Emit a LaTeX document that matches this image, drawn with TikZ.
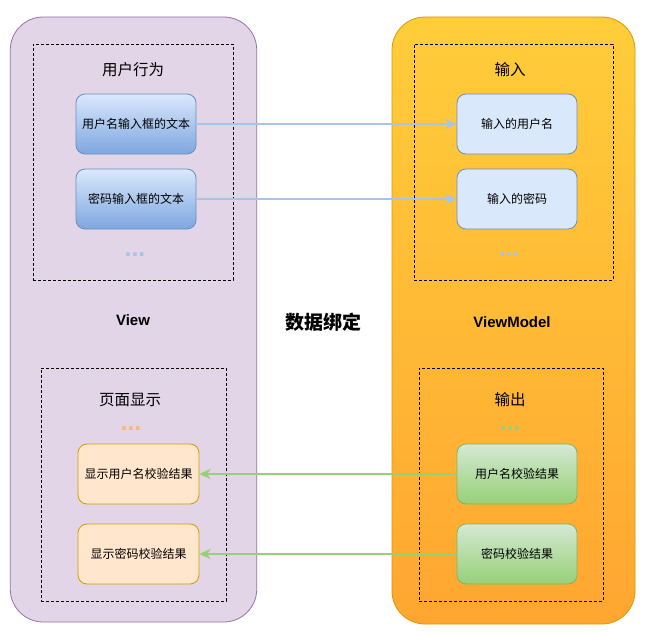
\documentclass[tikz,border=0pt]{standalone}
\usepackage{fontspec}
\setmainfont{Liberation Sans}
\newfontfamily\cjk{Noto Sans CJK SC}
\usetikzlibrary{arrows.meta}

\definecolor{viewfill}{HTML}{E1D5E7}
\definecolor{viewline}{HTML}{9673A6}
\definecolor{vmtop}{HTML}{FFCD3A}
\definecolor{vmbottom}{HTML}{FFA631}
\definecolor{vmline}{HTML}{D79B00}
\definecolor{bluetop}{HTML}{DAE8FC}
\definecolor{bluebottom}{HTML}{7EA6E0}
\definecolor{blueline}{HTML}{6C8EBF}
\definecolor{bluearr}{HTML}{A9C4EB}
\definecolor{orangefill}{HTML}{FFE6CC}
\definecolor{orangeline}{HTML}{D79B00}
\definecolor{orangedot}{HTML}{FFB570}
\definecolor{greentop}{HTML}{D5E8D4}
\definecolor{greenbottom}{HTML}{97D077}
\definecolor{greenline}{HTML}{82B366}

\tikzset{
  panel/.style={draw,rounded corners=33pt,line width=0.8pt},
  group/.style={draw,dash pattern=on 3pt off 2pt,line width=0.7pt},
  item/.style={draw,rounded corners=9pt,minimum width=120pt,minimum height=60pt,
    line width=0.8pt,font=\cjk\fontsize{12}{14}\selectfont},
  heading/.style={font=\cjk\fontsize{15.5}{18}\selectfont},
  dots/.style={font=\bfseries\fontsize{25}{25}\selectfont,inner sep=0pt},
  link/.style={line width=1.5pt,-{Stealth[length=11pt,width=10pt,inset=3pt]}}
}

\begin{document}
\begin{tikzpicture}[x=1pt,y=-1pt]
  \useasboundingbox (0,0) rectangle (647,634);
  \node (view) at (133.5,319.5) [panel,fill=viewfill,draw=viewline,minimum width=246.5pt,minimum height=605pt] {};
  \node (vm) at (513.5,320.5) [panel,top color=vmtop,bottom color=vmbottom,draw=vmline,minimum width=243pt,minimum height=607pt] {};

  \node (act) at (133,162) [group,minimum width=200pt,minimum height=236pt] {};
  \node (in) at (513.5,162) [group,minimum width=199pt,minimum height=236pt] {};
  \node (show) at (133.5,484.5) [group,minimum width=185pt,minimum height=233pt] {};
  \node (out) at (511,484.5) [group,minimum width=184pt,minimum height=233pt] {};

  \node (acttitle) at (133,70) [heading] {用户行为};
  \node (intitle) at (510,70) [heading] {输入};
  \node (showtitle) at (130,400) [heading] {页面显示};
  \node (outtitle) at (510,400) [heading] {输出};

  \node (nametext) at (136,124) [item,top color=bluetop,bottom color=bluebottom,draw=blueline] {用户名输入框的文本};
  \node (pwdtext) at (136,199) [item,top color=bluetop,bottom color=bluebottom,draw=blueline] {密码输入框的文本};
  \node (namein) at (517,124) [item,fill=bluetop,draw=blueline] {输入的用户名};
  \node (pwdin) at (517,199) [item,fill=bluetop,draw=blueline] {输入的密码};
  \node (namecheck) at (517,474) [item,top color=greentop,bottom color=greenbottom,draw=greenline] {用户名校验结果};
  \node (pwdcheck) at (517,554) [item,top color=greentop,bottom color=greenbottom,draw=greenline] {密码校验结果};
  \node (nameshow) at (138.5,474) [item,fill=orangefill,draw=orangeline,minimum width=121pt] {显示用户名校验结果};
  \node (pwdshow) at (138.5,554) [item,fill=orangefill,draw=orangeline,minimum width=121pt] {显示密码校验结果};

  \node (actdots) at (135,255) [dots,text=bluearr] {...};
  \node (indots) at (509,255) [dots,text=bluearr] {...};
  \node (showdots) at (131,429) [dots,text=orangedot] {...};
  \node (outdots) at (510,429) [dots,text=greenbottom] {...};

  \node (viewlabel) at (133,320) [font=\bfseries\fontsize{15}{18}\selectfont] {View};
  \node (vmlabel) at (512,322) [font=\bfseries\fontsize{15}{18}\selectfont] {ViewModel};
  \node (bind) at (323,322) [font=\cjk\bfseries\fontsize{19}{22}\selectfont] {数据绑定};

  \draw[link,bluearr] (nametext) -- (namein);
  \draw[link,bluearr] (pwdtext) -- (pwdin);
  \draw[link,greenbottom] (namecheck) -- (nameshow);
  \draw[link,greenbottom] (pwdcheck) -- (pwdshow);
\end{tikzpicture}
\end{document}
